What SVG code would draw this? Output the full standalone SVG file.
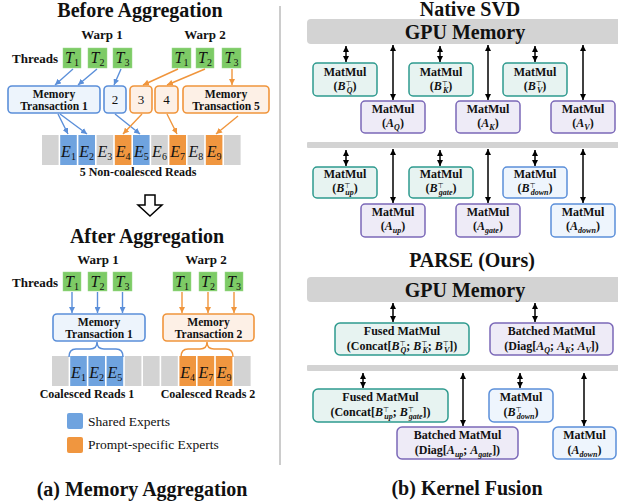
<svg xmlns="http://www.w3.org/2000/svg" width="618" height="503" viewBox="0 0 618 503">
<style>
text{font-family:"Liberation Serif","Times New Roman",serif;fill:#111}
.b{font-weight:bold}
.ttl{font-weight:bold;font-size:20px;text-anchor:middle}
.wp{font-weight:bold;font-size:13px;text-anchor:middle}
.lbl{font-weight:bold;font-size:12px;text-anchor:middle}
.mtl{font-weight:bold;font-size:11.6px;text-anchor:middle}
.num{font-size:13px;text-anchor:middle}
.mt{font-style:italic;font-size:16px;text-anchor:middle}
.sbn{font-size:10px;font-style:normal}
.bi{font-style:italic;font-weight:bold}
.sub{font-size:8px;font-style:italic;font-weight:bold}
.sup{font-size:7px;font-family:"DejaVu Sans",sans-serif;font-weight:normal}
.tbox{fill:#7DCB66;stroke:#9ad88a;stroke-width:0.5}
.bluebox{fill:#EDF4FC;stroke:#5B8FD9;stroke-width:1.6}
.orgbox{fill:#FDF0E6;stroke:#F0953C;stroke-width:1.6}
.gc{fill:#D3D3D3}
.bc{fill:#6FA3DF}
.oc{fill:#F0963F}
.teal{fill:#E7F3F1;stroke:#2E9A8E;stroke-width:1.5}
.purp{fill:#EEEBF7;stroke:#7B68B8;stroke-width:1.5}
.rblue{fill:#EEF5FD;stroke:#5B8FD9;stroke-width:1.5}
.bar{fill:#D3D3D3}
.ab{stroke:#5B8FD9;stroke-width:1.4;fill:none;marker-end:url(#mb)}
.ao{stroke:#F0953C;stroke-width:1.4;fill:none;marker-end:url(#mo)}
.ak{stroke:#000;stroke-width:1.5;fill:none;marker-start:url(#mk);marker-end:url(#mk)}
.lg{font-size:13.5px}
</style>
<defs>
<marker id="mb" viewBox="0 0 10 10" refX="10" refY="5" markerWidth="6" markerHeight="6" orient="auto" markerUnits="userSpaceOnUse"><path d="M0,0 L10,5 L0,10 z" fill="#5B8FD9"/></marker>
<marker id="mo" viewBox="0 0 10 10" refX="10" refY="5" markerWidth="6" markerHeight="6" orient="auto" markerUnits="userSpaceOnUse"><path d="M0,0 L10,5 L0,10 z" fill="#F0953C"/></marker>
<marker id="mk" viewBox="0 0 10 10" refX="10" refY="5" markerWidth="6" markerHeight="6" orient="auto-start-reverse" markerUnits="userSpaceOnUse"><path d="M0,0 L10,5 L0,10 z" fill="#000"/></marker>
</defs>
<rect width="618" height="503" fill="#fff"/>

<!-- ===== Left panel: Before ===== -->
<g id="before-title">
<text class="ttl" x="140" y="17">Before Aggregation</text>
<text class="wp" x="102" y="39">Warp 1</text>
<text class="wp" x="205" y="39">Warp 2</text>
<text class="b" x="12" y="63" font-size="13">Threads</text>
</g>
<g id="before-threads">
<rect class="tbox" x="63" y="48" width="18" height="20"/><text class="mt" x="72" y="63">T<tspan class="sbn" dy="3">1</tspan></text>
<rect class="tbox" x="88" y="48" width="19" height="20"/><text class="mt" x="97.5" y="63">T<tspan class="sbn" dy="3">2</tspan></text>
<rect class="tbox" x="113" y="48" width="19" height="20"/><text class="mt" x="122.5" y="63">T<tspan class="sbn" dy="3">3</tspan></text>
<rect class="tbox" x="172" y="48" width="19" height="20"/><text class="mt" x="181.5" y="63">T<tspan class="sbn" dy="3">1</tspan></text>
<rect class="tbox" x="196" y="48" width="18" height="20"/><text class="mt" x="205" y="63">T<tspan class="sbn" dy="3">2</tspan></text>
<rect class="tbox" x="222" y="48" width="19" height="20"/><text class="mt" x="231.5" y="63">T<tspan class="sbn" dy="3">3</tspan></text>
</g>
<g id="before-transactions">
<rect class="bluebox" x="8" y="86" width="92" height="27" rx="4"/>
<text class="mtl" x="54" y="97.5">Memory</text><text class="mtl" x="54" y="109.5">Transaction 1</text>
<rect class="bluebox" x="104" y="86" width="22" height="27" rx="4"/><text class="num" x="115" y="104">2</text>
<rect class="orgbox" x="130" y="86" width="22" height="27" rx="4"/><text class="num" x="141" y="104">3</text>
<rect class="orgbox" x="155" y="86" width="23" height="27" rx="4"/><text class="num" x="166.5" y="104">4</text>
<rect class="orgbox" x="183" y="86" width="86" height="27" rx="4"/>
<text class="mtl" x="226" y="97.5">Memory</text><text class="mtl" x="226" y="109.5">Transaction 5</text>
</g>
<g id="before-cells">
<rect class="gc" x="42" y="135" width="16.6" height="30"/>
<rect class="bc" x="60.2" y="135" width="16.6" height="30"/><text class="mt" x="68.5" y="157">E<tspan class="sbn" dy="3">1</tspan></text>
<rect class="bc" x="78.4" y="135" width="16.6" height="30"/><text class="mt" x="86.7" y="157">E<tspan class="sbn" dy="3">2</tspan></text>
<rect class="gc" x="96.6" y="135" width="16.6" height="30"/><text class="mt" x="104.9" y="157">E<tspan class="sbn" dy="3">3</tspan></text>
<rect class="oc" x="114.8" y="135" width="16.6" height="30"/><text class="mt" x="123.1" y="157">E<tspan class="sbn" dy="3">4</tspan></text>
<rect class="bc" x="133" y="135" width="16.6" height="30"/><text class="mt" x="141.3" y="157">E<tspan class="sbn" dy="3">5</tspan></text>
<rect class="gc" x="151.2" y="135" width="16.6" height="30"/><text class="mt" x="159.5" y="157">E<tspan class="sbn" dy="3">6</tspan></text>
<rect class="oc" x="169.4" y="135" width="16.6" height="30"/><text class="mt" x="177.7" y="157">E<tspan class="sbn" dy="3">7</tspan></text>
<rect class="gc" x="187.6" y="135" width="16.6" height="30"/><text class="mt" x="195.9" y="157">E<tspan class="sbn" dy="3">8</tspan></text>
<rect class="oc" x="205.8" y="135" width="16.6" height="30"/><text class="mt" x="214.1" y="157">E<tspan class="sbn" dy="3">9</tspan></text>
<rect class="gc" x="224" y="135" width="16.6" height="30"/>
<text class="lbl" x="138" y="176">5 Non-coalesced Reads</text>
</g>

<g id="transition-arrow">
<polygon points="145,195 155,195 155,205 162,205 150,216 138,205 145,205" fill="#fff" stroke="#000" stroke-width="1.5" stroke-linejoin="miter"/>
</g>

<!-- ===== Left panel: After ===== -->
<g id="after-title">
<text class="ttl" x="147" y="243" font-size="18">After Aggregation</text>
<text class="wp" x="98" y="264">Warp 1</text>
<text class="wp" x="206" y="264">Warp 2</text>
<text class="b" x="12" y="287" font-size="13">Threads</text>
</g>
<g id="after-threads">
<rect class="tbox" x="63" y="272" width="18" height="19"/><text class="mt" x="72" y="287">T<tspan class="sbn" dy="3">1</tspan></text>
<rect class="tbox" x="88" y="272" width="19" height="19"/><text class="mt" x="97.5" y="287">T<tspan class="sbn" dy="3">2</tspan></text>
<rect class="tbox" x="113" y="272" width="19" height="19"/><text class="mt" x="122.5" y="287">T<tspan class="sbn" dy="3">3</tspan></text>
<rect class="tbox" x="173" y="272" width="18" height="19"/><text class="mt" x="182" y="287">T<tspan class="sbn" dy="3">1</tspan></text>
<rect class="tbox" x="199" y="272" width="18" height="19"/><text class="mt" x="208" y="287">T<tspan class="sbn" dy="3">2</tspan></text>
<rect class="tbox" x="225" y="272" width="18" height="19"/><text class="mt" x="234" y="287">T<tspan class="sbn" dy="3">3</tspan></text>
</g>
<g id="after-transactions">
<rect class="bluebox" x="53" y="314" width="92" height="27" rx="4"/>
<text class="mtl" x="99" y="325.5">Memory</text><text class="mtl" x="99" y="337.5">Transaction 1</text>
<rect class="orgbox" x="163" y="314" width="91" height="27" rx="4"/>
<text class="mtl" x="208.5" y="325.5">Memory</text><text class="mtl" x="208.5" y="337.5">Transaction 2</text>
</g>
<g id="after-cells">
<rect class="gc" x="52" y="356" width="16.6" height="30"/>
<rect class="bc" x="70.2" y="356" width="16.6" height="30"/><text class="mt" x="78.5" y="378">E<tspan class="sbn" dy="3">1</tspan></text>
<rect class="bc" x="88.4" y="356" width="16.6" height="30"/><text class="mt" x="96.7" y="378">E<tspan class="sbn" dy="3">2</tspan></text>
<rect class="bc" x="106.6" y="356" width="16.6" height="30"/><text class="mt" x="114.9" y="378">E<tspan class="sbn" dy="3">5</tspan></text>
<rect class="gc" x="124.8" y="356" width="16.6" height="30"/>
<rect class="gc" x="143" y="356" width="16.6" height="30"/>
<rect class="gc" x="161.2" y="356" width="16.6" height="30"/>
<rect class="oc" x="179.4" y="356" width="16.6" height="30"/><text class="mt" x="187.7" y="378">E<tspan class="sbn" dy="3">4</tspan></text>
<rect class="oc" x="197.6" y="356" width="16.6" height="30"/><text class="mt" x="205.9" y="378">E<tspan class="sbn" dy="3">7</tspan></text>
<rect class="oc" x="215.8" y="356" width="16.6" height="30"/><text class="mt" x="224.1" y="378">E<tspan class="sbn" dy="3">9</tspan></text>
<rect class="gc" x="234" y="356" width="16.6" height="30"/>
<text class="lbl" x="87" y="398">Coalesced Reads 1</text>
<text class="lbl" x="208" y="398">Coalesced Reads 2</text>
</g>
<g id="legend">
<rect x="67" y="413" width="16" height="16" rx="2" fill="#6FA3DF"/>
<text class="lg" x="88" y="426">Shared Experts</text>
<rect x="67" y="437" width="16" height="16" rx="2" fill="#F0963F"/>
<text class="lg" x="88" y="449">Prompt-specific Experts</text>
</g>
<text class="ttl" x="142" y="496">(a) Memory Aggregation</text>

<g id="divider"><line x1="280" y1="6" x2="280" y2="465" stroke="#BBBBBB" stroke-width="1.5"/></g>

<!-- ===== Right panel ===== -->
<text class="ttl" x="470" y="16" font-size="19.5">Native SVD</text>
<g id="gpu-mem-1">
<rect class="bar" x="307" y="19" width="320" height="25" rx="4"/>
<text class="ttl" x="465" y="39" font-size="20.5">GPU Memory</text>
</g>
<rect id="bar-2" class="bar" x="307" y="142" width="320" height="6" rx="1"/>

<g id="bq"><rect class="teal" x="313" y="63" width="64" height="33" rx="4"/><text class="lbl" x="345" y="76">MatMul</text><text class="lbl" x="345" y="90">(<tspan class="bi">B</tspan><tspan class="sup" dy="-4">⊤</tspan><tspan class="sub" dx="-5" dy="7">Q</tspan><tspan dy="-3">)</tspan></text></g>
<g id="aq"><rect class="purp" x="361" y="101" width="64" height="32" rx="4"/><text class="lbl" x="393" y="113">MatMul</text><text class="lbl" x="393" y="127">(<tspan class="bi">A</tspan><tspan class="sub" dy="3">Q</tspan><tspan dy="-3">)</tspan></text></g>
<g id="bk"><rect class="teal" x="409" y="63" width="64" height="33" rx="4"/><text class="lbl" x="441" y="76">MatMul</text><text class="lbl" x="441" y="90">(<tspan class="bi">B</tspan><tspan class="sup" dy="-4">⊤</tspan><tspan class="sub" dx="-5" dy="7">K</tspan><tspan dy="-3">)</tspan></text></g>
<g id="ak"><rect class="purp" x="456" y="101" width="64" height="32" rx="4"/><text class="lbl" x="488" y="113">MatMul</text><text class="lbl" x="488" y="127">(<tspan class="bi">A</tspan><tspan class="sub" dy="3">K</tspan><tspan dy="-3">)</tspan></text></g>
<g id="bv"><rect class="teal" x="503" y="63" width="64" height="33" rx="4"/><text class="lbl" x="535" y="76">MatMul</text><text class="lbl" x="535" y="90">(<tspan class="bi">B</tspan><tspan class="sup" dy="-4">⊤</tspan><tspan class="sub" dx="-5" dy="7">V</tspan><tspan dy="-3">)</tspan></text></g>
<g id="av"><rect class="purp" x="551" y="101" width="64" height="32" rx="4"/><text class="lbl" x="583" y="113">MatMul</text><text class="lbl" x="583" y="127">(<tspan class="bi">A</tspan><tspan class="sub" dy="3">V</tspan><tspan dy="-3">)</tspan></text></g>

<g id="bup"><rect class="teal" x="313" y="167" width="64" height="31" rx="4"/><text class="lbl" x="345" y="178">MatMul</text><text class="lbl" x="345" y="192">(<tspan class="bi">B</tspan><tspan class="sup" dy="-4">⊤</tspan><tspan class="sub" dx="-5" dy="7">up</tspan><tspan dy="-3">)</tspan></text></g>
<g id="aup"><rect class="purp" x="361" y="204" width="64" height="33" rx="4"/><text class="lbl" x="393" y="216">MatMul</text><text class="lbl" x="393" y="230">(<tspan class="bi">A</tspan><tspan class="sub" dy="3">up</tspan><tspan dy="-3">)</tspan></text></g>
<g id="bgate"><rect class="teal" x="409" y="167" width="64" height="31" rx="4"/><text class="lbl" x="441" y="178">MatMul</text><text class="lbl" x="441" y="192">(<tspan class="bi">B</tspan><tspan class="sup" dy="-4">⊤</tspan><tspan class="sub" dx="-5" dy="7">gate</tspan><tspan dy="-3">)</tspan></text></g>
<g id="agate"><rect class="purp" x="456" y="204" width="64" height="33" rx="4"/><text class="lbl" x="488" y="216">MatMul</text><text class="lbl" x="488" y="230">(<tspan class="bi">A</tspan><tspan class="sub" dy="3">gate</tspan><tspan dy="-3">)</tspan></text></g>
<g id="bdown"><rect class="rblue" x="503" y="167" width="64" height="31" rx="4"/><text class="lbl" x="535" y="178">MatMul</text><text class="lbl" x="535" y="192">(<tspan class="bi">B</tspan><tspan class="sup" dy="-4">⊤</tspan><tspan class="sub" dx="-5" dy="7">down</tspan><tspan dy="-3">)</tspan></text></g>
<g id="adown"><rect class="rblue" x="551" y="204" width="64" height="33" rx="4"/><text class="lbl" x="583" y="216">MatMul</text><text class="lbl" x="583" y="230">(<tspan class="bi">A</tspan><tspan class="sub" dy="3">down</tspan><tspan dy="-3">)</tspan></text></g>

<text class="ttl" x="472" y="267">PARSE (Ours)</text>
<g id="gpu-mem-2">
<rect class="bar" x="307" y="277" width="320" height="25" rx="4"/>
<text class="ttl" x="465" y="297" font-size="20.5">GPU Memory</text>
</g>
<rect id="bar-4" class="bar" x="307" y="365" width="320" height="6" rx="1"/>

<g id="fused-qkv"><rect class="teal" x="335" y="323" width="134" height="32" rx="5"/><text class="lbl" x="402" y="335">Fused MatMul</text><text class="lbl" x="402" y="350">(Concat[<tspan class="bi">B</tspan><tspan class="sup" dy="-4">⊤</tspan><tspan class="sub" dx="-5" dy="7">Q</tspan><tspan dy="-3">; </tspan><tspan class="bi">B</tspan><tspan class="sup" dy="-4">⊤</tspan><tspan class="sub" dx="-5" dy="7">K</tspan><tspan dy="-3">; </tspan><tspan class="bi">B</tspan><tspan class="sup" dy="-4">⊤</tspan><tspan class="sub" dx="-5" dy="7">V</tspan><tspan dy="-3">])</tspan></text></g>
<g id="batched-qkv"><rect class="purp" x="490" y="323" width="123" height="32" rx="5"/><text class="lbl" x="551.5" y="335">Batched MatMul</text><text class="lbl" x="551.5" y="350">(Diag[<tspan class="bi">A</tspan><tspan class="sub" dy="3">Q</tspan><tspan dy="-3">; </tspan><tspan class="bi">A</tspan><tspan class="sub" dy="3">K</tspan><tspan dy="-3">; </tspan><tspan class="bi">A</tspan><tspan class="sub" dy="3">V</tspan><tspan dy="-3">])</tspan></text></g>
<g id="fused-upgate"><rect class="teal" x="313" y="389" width="135" height="33" rx="5"/><text class="lbl" x="380.5" y="401">Fused MatMul</text><text class="lbl" x="380.5" y="416">(Concat[<tspan class="bi">B</tspan><tspan class="sup" dy="-4">⊤</tspan><tspan class="sub" dx="-5" dy="7">up</tspan><tspan dy="-3">; </tspan><tspan class="bi">B</tspan><tspan class="sup" dy="-4">⊤</tspan><tspan class="sub" dx="-5" dy="7">gate</tspan><tspan dy="-3">])</tspan></text></g>
<g id="bdown-2"><rect class="rblue" x="489" y="389" width="64" height="33" rx="5"/><text class="lbl" x="521" y="401">MatMul</text><text class="lbl" x="521" y="416">(<tspan class="bi">B</tspan><tspan class="sup" dy="-4">⊤</tspan><tspan class="sub" dx="-5" dy="7">down</tspan><tspan dy="-3">)</tspan></text></g>
<g id="batched-upgate"><rect class="purp" x="397" y="427" width="121" height="32" rx="5"/><text class="lbl" x="457.5" y="439">Batched MatMul</text><text class="lbl" x="457.5" y="454">(Diag[<tspan class="bi">A</tspan><tspan class="sub" dy="3">up</tspan><tspan dy="-3">; </tspan><tspan class="bi">A</tspan><tspan class="sub" dy="3">gate</tspan><tspan dy="-3">])</tspan></text></g>
<g id="adown-2"><rect class="rblue" x="553" y="427" width="63" height="32" rx="5"/><text class="lbl" x="584.5" y="439">MatMul</text><text class="lbl" x="584.5" y="454">(<tspan class="bi">A</tspan><tspan class="sub" dy="3">down</tspan><tspan dy="-3">)</tspan></text></g>

<text class="ttl" x="467" y="495">(b) Kernel Fusion</text>

<!-- ===== Connectors ===== -->
<g id="connectors">
<line class="ab" x1="73" y1="69" x2="55" y2="85"/>
<line class="ab" x1="97" y1="69" x2="78" y2="85"/>
<line class="ab" x1="121" y1="69" x2="114" y2="85"/>
<line class="ab" x1="58" y1="114" x2="68" y2="134"/>
<line class="ab" x1="60" y1="114" x2="87" y2="134"/>
<line class="ab" x1="115" y1="114" x2="140" y2="134"/>
<line class="ao" x1="178" y1="69" x2="143" y2="85"/>
<line class="ao" x1="205" y1="69" x2="167" y2="85"/>
<line class="ao" x1="232" y1="69" x2="232" y2="85"/>
<line class="ao" x1="142" y1="114" x2="123" y2="134"/>
<line class="ao" x1="167" y1="114" x2="177" y2="134"/>
<line class="ao" x1="238" y1="116" x2="216" y2="134"/>
<line class="ab" x1="72" y1="292" x2="72" y2="313"/>
<line class="ab" x1="97.5" y1="292" x2="97.5" y2="313"/>
<line class="ab" x1="122.5" y1="292" x2="122.5" y2="313"/>
<line class="ao" x1="182" y1="292" x2="182" y2="313"/>
<line class="ao" x1="208" y1="292" x2="208" y2="313"/>
<line class="ao" x1="234" y1="292" x2="234" y2="313"/>
<path d="M69,357 Q69,349 76,349 L90,349 Q97,349 97,342 Q97,349 104,349 L116,349 Q123,349 123,357" fill="none" stroke="#5B8FD9" stroke-width="1.5"/>
<path d="M181,357 Q181,349 188,349 L200,349 Q207,349 207,342 Q207,349 214,349 L226,349 Q233,349 233,357" fill="none" stroke="#F0953C" stroke-width="1.5"/>
<line class="ak" x1="346" y1="46" x2="346" y2="62"/>
<line class="ak" x1="440" y1="46" x2="440" y2="62"/>
<line class="ak" x1="535" y1="46" x2="535" y2="62"/>
<line class="ak" x1="393" y1="45" x2="393" y2="100"/>
<line class="ak" x1="488" y1="45" x2="488" y2="100"/>
<line class="ak" x1="583" y1="45" x2="583" y2="100"/>
<line class="ak" x1="346" y1="150" x2="346" y2="166"/>
<line class="ak" x1="440" y1="150" x2="440" y2="166"/>
<line class="ak" x1="535" y1="150" x2="535" y2="166"/>
<line class="ak" x1="393" y1="149" x2="393" y2="203"/>
<line class="ak" x1="488" y1="149" x2="488" y2="203"/>
<line class="ak" x1="583" y1="149" x2="583" y2="203"/>
<line class="ak" x1="393" y1="303" x2="393" y2="322"/>
<line class="ak" x1="535" y1="303" x2="535" y2="322"/>
<line class="ak" x1="363" y1="373" x2="363" y2="388"/>
<line class="ak" x1="520" y1="373" x2="520" y2="388"/>
<line class="ak" x1="463" y1="373" x2="463" y2="426"/>
<line class="ak" x1="584" y1="373" x2="584" y2="426"/>
</g>
</svg>
